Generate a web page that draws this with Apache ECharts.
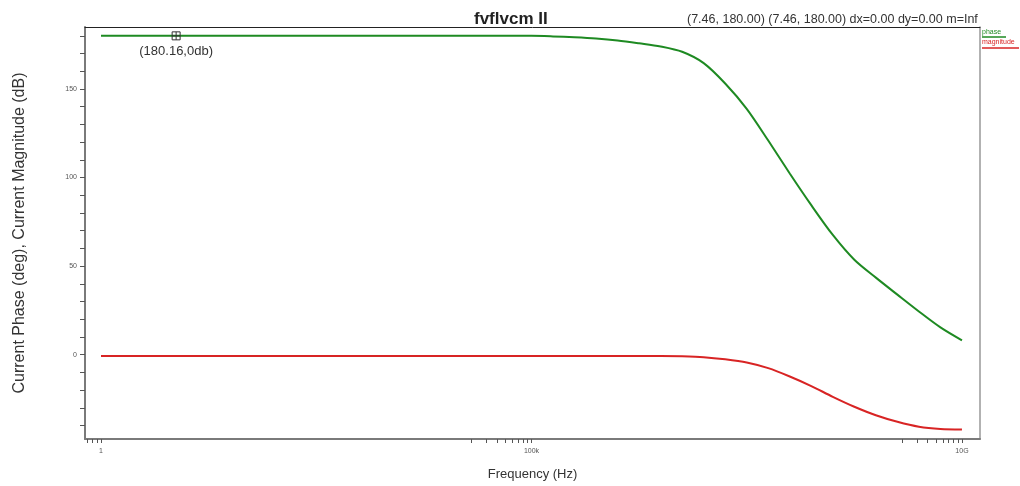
<!DOCTYPE html>
<html>
<head>
<meta charset="utf-8">
<script src="https://cdn.jsdelivr.net/npm/echarts@6/dist/echarts.min.js"></script>
<style>
  html, body { margin: 0; padding: 0; background: #fff; }
  #chart { width: 1020px; height: 486px; }
</style>
</head>
<body>
<div id="chart"></div>
<script>
// AC sweep: current phase and magnitude vs frequency
const titleText = 'fvflvcm II';
const cursorText = '(7.46, 180.00) (7.46, 180.00) dx=0.00 dy=0.00 m=Inf';
const seriesNames = ['phase', 'magnitude'];

const freqHz = [1, 10, 100, 1e3, 1e4, 3.162e4, 1e5, 1.778e5, 3.162e5, 5.623e5, 1e6, 1.778e6, 3.162e6, 5.623e6,
  1e7, 1.778e7, 3.162e7, 5.623e7, 1e8, 1.778e8, 3.162e8, 5.623e8, 1e9, 1.778e9, 3.162e9, 5.623e9, 1e10];
const phaseDeg = [180, 180, 180, 180, 180, 180, 180, 179.7, 179.2, 178.5, 177.4, 175.8, 174, 171,
  164.6, 153.1, 138.8, 120.9, 102.3, 84.4, 67.6, 53.6, 43.5, 33.9, 24.4, 15.4, 8.1];
const magnitudeDb = [-0.7, -0.7, -0.7, -0.7, -0.7, -0.7, -0.7, -0.7, -0.7, -0.7, -0.7, -0.7, -0.7, -0.9,
  -1.4, -2.6, -4.4, -7.6, -12.3, -17.7, -23.8, -29.4, -34.2, -37.9, -40.7, -42, -42.3];

// cursor marker
const cursorPoint = [7.46, 180];
const cursorLabel = '(180.16,0db)';

// axis ticks and labels
const xLabelValues = [1, 1e5, 1e10];
const xLabelText = { 1: '1', 100000: '100k', 10000000000: '10G' };
const xTickValues = [0.7, 0.8, 0.9, 1,
  2e4, 3e4, 4e4, 5e4, 6e4, 7e4, 8e4, 9e4, 1e5,
  2e9, 3e9, 4e9, 5e9, 6e9, 7e9, 8e9, 9e9, 1e10];
const yLabelValues = [0, 50, 100, 150];
const yTickValues = [-40, -30, -20, -10, 0, 10, 20, 30, 40, 50, 60, 70, 80, 90, 100,
  110, 120, 130, 140, 150, 160, 170, 180];

const colors = ['#1e8a22', '#d82424'];
const font = 'Liberation Sans, Arial, sans-serif';

const chart = echarts.init(document.getElementById('chart'), null, { renderer: 'canvas' });

const phaseData = freqHz.map((f, i) => [f, phaseDeg[i]]);
const magData = freqHz.map((f, i) => [f, magnitudeDb[i]]);

chart.setOption({
  animation: false,
  backgroundColor: '#fff',
  title: {
    text: titleText,
    left: 469,
    top: 6,
    textStyle: { fontFamily: font, fontSize: 17, fontWeight: 'bold', color: '#222' }
  },
  grid: { left: 85, right: 40, top: 27, bottom: 44, containLabel: false },
  xAxis: [{
    type: 'log',
    logBase: 10,
    min: 0.652,
    max: 1.62e10,
    name: 'Frequency (Hz)',
    nameLocation: 'middle',
    nameGap: 29,
    nameTextStyle: { fontFamily: font, fontSize: 13, color: '#333' },
    axisLine: { show: true, onZero: false, lineStyle: { color: '#7a7a7a', width: 2 } },
    axisTick: { show: true, customValues: xTickValues, length: 4, lineStyle: { color: '#555', width: 1 } },
    axisLabel: {
      customValues: xLabelValues,
      fontFamily: font, fontSize: 7, color: '#555', margin: 9,
      formatter: v => xLabelText[Math.round(v)] !== undefined ? xLabelText[Math.round(v)] : ''
    },
    splitLine: { show: false }
  }, {
    type: 'log',
    position: 'top',
    min: 0.652,
    max: 1.62e10,
    axisLine: { show: true, onZero: false, lineStyle: { color: '#222', width: 1 } },
    axisTick: { show: false },
    axisLabel: { show: false },
    splitLine: { show: false }
  }],
  yAxis: [{
    type: 'value',
    min: -47.6,
    max: 185,
    name: 'Current Phase (deg), Current Magnitude (dB)',
    nameLocation: 'middle',
    nameGap: 57,
    nameTextStyle: { fontFamily: font, fontSize: 16, color: '#333' },
    axisLine: { show: true, onZero: false, lineStyle: { color: '#7a7a7a', width: 2 } },
    axisTick: { show: true, customValues: yTickValues, length: 5, lineStyle: { color: '#555', width: 1 } },
    axisLabel: { customValues: yLabelValues, fontFamily: font, fontSize: 7, color: '#555', margin: 8 },
    splitLine: { show: false }
  }, {
    type: 'value',
    position: 'right',
    min: -47.6,
    max: 185,
    axisLine: { show: true, onZero: false, lineStyle: { color: '#999', width: 1.5 } },
    axisTick: { show: false },
    axisLabel: { show: false },
    splitLine: { show: false }
  }],
  series: [{
    name: seriesNames[0],
    type: 'line',
    data: phaseData,
    showSymbol: false,
    smooth: 0.3,
    lineStyle: { color: colors[0], width: 2 },
    itemStyle: { color: colors[0] },
    markPoint: {
      symbol: 'path://M0,0 L10,0 L10,10 L0,10 Z M5,0 L5,10 M0,5 L10,5',
      symbolSize: 8,
      itemStyle: { color: 'rgba(0,0,0,0)', borderColor: '#333', borderWidth: 1 },
      label: {
        show: true, position: 'bottom', distance: 5,
        formatter: cursorLabel,
        fontFamily: font, fontSize: 13, color: '#333'
      },
      data: [{ coord: cursorPoint }]
    }
  }, {
    name: seriesNames[1],
    type: 'line',
    data: magData,
    showSymbol: false,
    smooth: 0.3,
    lineStyle: { color: colors[1], width: 2 },
    itemStyle: { color: colors[1] }
  }],
  graphic: [
    {
      type: 'text', left: 687, top: 13,
      style: { text: cursorText, fontFamily: font, fontSize: 12.5, fill: '#333' }
    },
    {
      type: 'text', left: 982, top: 29,
      style: { text: seriesNames[0], fontFamily: font, fontSize: 7, fill: colors[0] }
    },
    {
      type: 'line', shape: { x1: 982, y1: 37, x2: 1006, y2: 37 },
      style: { stroke: colors[0], lineWidth: 1.5 }
    },
    {
      type: 'text', left: 982, top: 39,
      style: { text: seriesNames[1], fontFamily: font, fontSize: 7, fill: colors[1] }
    },
    {
      type: 'line', shape: { x1: 982, y1: 48, x2: 1019, y2: 48 },
      style: { stroke: colors[1], lineWidth: 1.5 }
    }
  ]
});
</script>
</body>
</html>
